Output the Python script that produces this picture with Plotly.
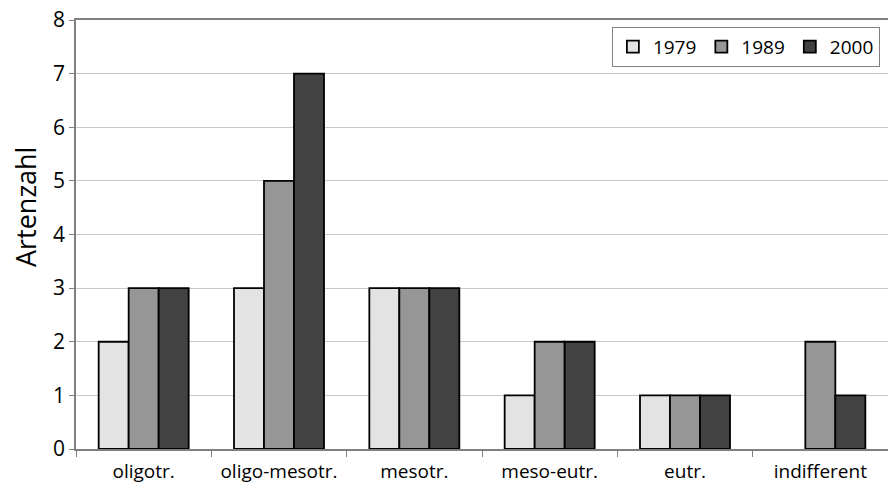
import plotly.graph_objects as go

categories = ["oligotr.", "oligo-mesotr.", "mesotr.", "meso-eutr.", "eutr.", "indifferent"]
series_names = ["1979", "1989", "2000"]
values_1979 = [2, 3, 3, 1, 1, None]
values_1989 = [3, 5, 3, 2, 1, 2]
values_2000 = [3, 7, 3, 2, 1, 1]
colors = ["#e3e3e3", "#969696", "#424242"]
y_title = "Artenzahl"
y_range = [0, 8]

FONT = "Open Sans"

fig = go.Figure()
for name, vals, col in zip(series_names, [values_1979, values_1989, values_2000], colors):
    fig.add_trace(go.Bar(
        x=categories, y=vals, name=name,
        marker=dict(color=col, line=dict(color="#000000", width=1.8)),
    ))

fig.update_layout(
    width=888, height=497,
    margin=dict(l=76, r=0, t=20, b=48, autoexpand=False),
    paper_bgcolor="white", plot_bgcolor="white",
    barmode="group", bargap=0.335, bargroupgap=0,
    font=dict(family=FONT, size=18, color="#000000"),
    showlegend=True,
    legend=dict(
        orientation="h", x=0.99, xanchor="right", y=0.984, yanchor="top",
        bgcolor="white", bordercolor="#808080", borderwidth=1,
        font=dict(family=FONT, size=19, color="#000000"),
        itemwidth=30, traceorder="normal",
    ),
    xaxis=dict(
        automargin=False,
        showgrid=False, showline=True, linecolor="#808080", linewidth=1.5,
        mirror=True,
        ticks="outside", tickson="boundaries", ticklen=6, tickcolor="#808080",
        tickfont=dict(family=FONT, size=19), ticklabelstandoff=4,
    ),
    yaxis=dict(
        automargin=False,
        range=y_range, dtick=1, showgrid=True, gridcolor="#c8c8c8", gridwidth=1,
        showline=True, linecolor="#808080", linewidth=1.5,
        ticks="outside", ticklen=5, tickcolor="#808080",
        tickfont=dict(family=FONT, size=21), zeroline=False,
    ),
    annotations=[dict(
        text=y_title, textangle=-90, xref="paper", yref="paper",
        x=-0.0628, y=0.564, xanchor="center", yanchor="middle", showarrow=False,
        font=dict(family=FONT, size=27, color="#000000"),
    )],
)

fig.write_html("out.html", config={"displayModeBar": False},
               post_script="document.body.style.margin='0';")
